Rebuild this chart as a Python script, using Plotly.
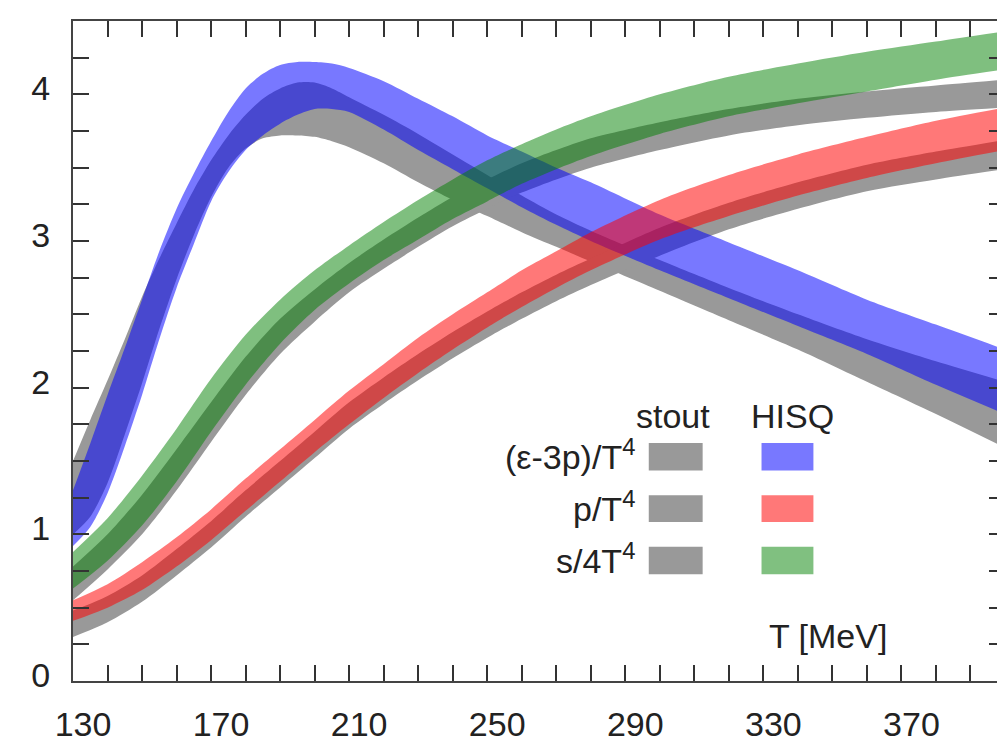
import plotly.graph_objects as go

# ---------------- data ----------------
# (epsilon-3p)/T^4 : temperature grid
T_e = [130, 135, 140, 145, 150, 155, 160, 165, 170, 175, 180, 185, 190, 195, 200,
       205, 210, 220, 230, 240, 250, 260, 270, 280, 300, 320, 340, 360, 380, 400]
hisq_e_up = [1.30, 1.62, 1.95, 2.27, 2.60, 2.93, 3.22, 3.46, 3.68, 3.88, 4.04, 4.14, 4.20, 4.22, 4.22,
             4.21, 4.18, 4.09, 3.97, 3.85, 3.72, 3.61, 3.50, 3.40, 3.18, 2.99, 2.80, 2.60, 2.43, 2.26]
hisq_e_lo = [0.92, 1.05, 1.28, 1.60, 1.95, 2.33, 2.68, 2.98, 3.27, 3.47, 3.62, 3.72, 3.80, 3.86, 3.90,
             3.90, 3.88, 3.76, 3.62, 3.49, 3.36, 3.23, 3.11, 3.00, 2.80, 2.61, 2.42, 2.23, 2.02, 1.82]
stout_e_up = [1.50, 1.78, 2.05, 2.33, 2.62, 2.88, 3.12, 3.35, 3.55, 3.72, 3.86, 3.97, 4.04, 4.08, 4.08,
              4.04, 3.98, 3.86, 3.73, 3.59, 3.45, 3.31, 3.18, 3.07, 2.87, 2.68, 2.50, 2.33, 2.18, 2.04]
stout_e_lo = [1.00, 1.12, 1.35, 1.68, 2.03, 2.40, 2.74, 3.04, 3.30, 3.50, 3.63, 3.70, 3.72, 3.72, 3.71,
              3.68, 3.64, 3.53, 3.40, 3.28, 3.17, 3.06, 2.96, 2.86, 2.66, 2.46, 2.26, 2.04, 1.82, 1.59]

# p/T^4 and s/4T^4 : temperature grid
T = [130, 140, 150, 160, 170, 180, 190, 200, 210, 220, 230, 240, 250, 260, 270, 280,
     300, 320, 340, 360, 380, 400]
hisq_s_up = [0.88, 1.11, 1.40, 1.72, 2.06, 2.36, 2.60, 2.80, 2.97, 3.13, 3.28, 3.42, 3.55, 3.66, 3.76, 3.85,
             4.00, 4.12, 4.21, 4.29, 4.36, 4.43]
hisq_s_lo = [0.63, 0.82, 1.06, 1.36, 1.70, 2.02, 2.30, 2.53, 2.71, 2.87, 3.01, 3.15, 3.27, 3.39, 3.49, 3.58,
             3.73, 3.85, 3.94, 4.02, 4.10, 4.17]
stout_s_up = [0.78, 1.00, 1.27, 1.58, 1.90, 2.21, 2.47, 2.67, 2.85, 3.01, 3.16, 3.30, 3.42, 3.53, 3.62, 3.70,
              3.81, 3.90, 3.97, 4.02, 4.06, 4.10]
stout_s_lo = [0.55, 0.76, 1.00, 1.30, 1.63, 1.95, 2.23, 2.45, 2.65, 2.81, 2.96, 3.10, 3.22, 3.33, 3.42, 3.50,
              3.62, 3.72, 3.79, 3.84, 3.88, 3.91]
hisq_p_up = [0.55, 0.66, 0.81, 0.98, 1.17, 1.38, 1.58, 1.78, 1.98, 2.16, 2.34, 2.50, 2.65, 2.80, 2.93, 3.06,
             3.28, 3.45, 3.59, 3.71, 3.82, 3.91]
hisq_p_lo = [0.41, 0.50, 0.62, 0.78, 0.96, 1.16, 1.36, 1.56, 1.75, 1.93, 2.10, 2.26, 2.41, 2.55, 2.68, 2.80,
             3.01, 3.17, 3.31, 3.43, 3.53, 3.62]
stout_p_up = [0.48, 0.58, 0.72, 0.90, 1.09, 1.30, 1.50, 1.70, 1.90, 2.07, 2.23, 2.38, 2.52, 2.65, 2.77, 2.88,
              3.09, 3.26, 3.40, 3.52, 3.61, 3.69]
stout_p_lo = [0.30, 0.40, 0.54, 0.72, 0.91, 1.12, 1.32, 1.52, 1.72, 1.89, 2.05, 2.20, 2.34, 2.47, 2.59, 2.70,
              2.90, 3.08, 3.22, 3.34, 3.42, 3.49]

x_tick_labels = ["130", "170", "210", "250", "290", "330", "370"]
y_tick_labels = ["0", "1", "2", "3", "4"]

row_labels = ["(ε-3p)/T<sup>4</sup>", "p/T<sup>4</sup>", "s/4T<sup>4</sup>"]
column_labels = ["stout", "HISQ"]
x_title = "T [MeV]"

# ---------------- styles ----------------
GREY = "rgba(153,153,153,1)"
BLUE = "rgba(0,0,255,0.53)"
RED = "rgba(255,0,0,0.53)"
GREEN = "rgba(0,128,0,0.5)"
SW_GREY = "#999999"
SW_COLORS = ["#7878ff", "#ff7878", "#80c080"]
FONT = "Liberation Sans, Arial, Helvetica, sans-serif"

fig = go.Figure()


def band(x, lo, up, color):
    fig.add_trace(go.Scatter(x=x, y=lo, mode="lines", line=dict(width=0, shape="spline", smoothing=0.8),
                             hoverinfo="skip", showlegend=False))
    fig.add_trace(go.Scatter(x=x, y=up, mode="lines", line=dict(width=0, shape="spline", smoothing=0.8),
                             fill="tonexty", fillcolor=color, hoverinfo="skip", showlegend=False))


# stout (grey) first, HISQ translucent on top
band(T_e, stout_e_lo, stout_e_up, GREY)
band(T, stout_s_lo, stout_s_up, GREY)
band(T, stout_p_lo, stout_p_up, GREY)
band(T_e, hisq_e_lo, hisq_e_up, BLUE)
band(T, hisq_s_lo, hisq_s_up, GREEN)
band(T, hisq_p_lo, hisq_p_up, RED)

# plot-area geometry in pixels (for legend placement)
L, R, TOP, BOT = 65, 999, 13, 681


def xp(px):
    return (px - L) / (R - L)


def yp(py):
    return (BOT - py) / (BOT - TOP)


annotations = []
shapes = []
# column headers
annotations.append(dict(x=xp(666), y=yp(413), text=column_labels[0], showarrow=False,
                        xref="paper", yref="paper", xanchor="center", yanchor="middle",
                        font=dict(size=34, color="#222", family=FONT)))
annotations.append(dict(x=xp(786), y=yp(413), text=column_labels[1], showarrow=False,
                        xref="paper", yref="paper", xanchor="center", yanchor="middle",
                        font=dict(size=34, color="#222", family=FONT)))
rows_y = [(440, 468), (493, 520), (545, 573)]
for lab, (y0, y1), col in zip(row_labels, rows_y, SW_COLORS):
    annotations.append(dict(x=xp(630), y=yp((y0 + y1) / 2 - 2), text=lab, showarrow=False,
                            xref="paper", yref="paper", xanchor="right", yanchor="middle",
                            font=dict(size=34, color="#222", family=FONT)))
    shapes.append(dict(type="rect", xref="paper", yref="paper", x0=xp(642), x1=xp(696),
                       y0=yp(y1), y1=yp(y0), fillcolor=SW_GREY, line=dict(width=0)))
    shapes.append(dict(type="rect", xref="paper", yref="paper", x0=xp(755), x1=xp(807),
                       y0=yp(y1), y1=yp(y0), fillcolor=col, line=dict(width=0)))
annotations.append(dict(x=xp(822), y=yp(635), text=x_title, showarrow=False,
                        xref="paper", yref="paper", xanchor="center", yanchor="middle",
                        font=dict(size=34, color="#222", family=FONT)))

axis_common = dict(showgrid=False, zeroline=False, showline=True, linecolor="#444", linewidth=2,
                   mirror="ticks", ticks="inside", ticklen=16, tickwidth=2, tickcolor="#333",
                   tickfont=dict(size=34, color="#222", family=FONT))

fig.update_layout(
    width=1005, height=741,
    margin=dict(l=L, r=1005 - R, t=TOP, b=741 - BOT),
    paper_bgcolor="white", plot_bgcolor="white",
    showlegend=False,
    xaxis=dict(range=[130, 400], tickmode="array", tickvals=[int(v) for v in x_tick_labels],
               ticktext=x_tick_labels,
               minor=dict(tickmode="linear", tick0=130, dtick=10, ticks="inside", ticklen=16,
                          tickwidth=2, tickcolor="#333"),
               ticklabelshift=10, ticklabelstandoff=12, **axis_common),
    yaxis=dict(range=[0, 4.5], tickmode="array", tickvals=[int(v) for v in y_tick_labels],
               ticktext=y_tick_labels,
               minor=dict(tickmode="linear", tick0=0, dtick=0.25, ticks="inside", ticklen=16,
                          tickwidth=2, tickcolor="#333"),
               ticklabelshift=-6, ticklabelstandoff=14, **axis_common),
    annotations=annotations,
    shapes=shapes,
)

fig.write_html("out.html")
